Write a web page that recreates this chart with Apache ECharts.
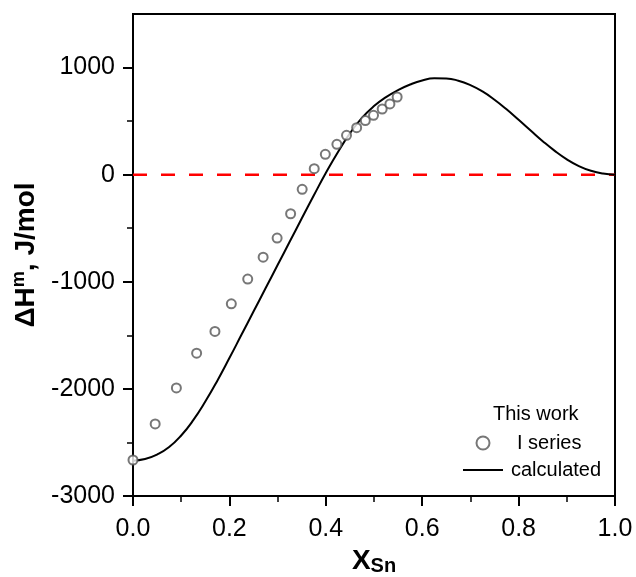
<!DOCTYPE html>
<html>
<head>
<meta charset="utf-8">
<script src="https://cdn.jsdelivr.net/npm/echarts@6/dist/echarts.min.js"></script>
<style>
  html, body { margin: 0; padding: 0; background: #fff; }
  #main { width: 636px; height: 577px; }
</style>
</head>
<body>
<div id="main"></div>
<script>
// measured points, I series
var xMeas = [0.0, 0.046, 0.090, 0.132, 0.170, 0.204, 0.238, 0.270, 0.299, 0.327, 0.351, 0.376,
             0.399, 0.423, 0.443, 0.464, 0.482, 0.499, 0.517, 0.533, 0.548];
var hMeas = [-2664, -2327, -1991, -1667, -1464, -1206, -975, -770, -592, -365, -137, 56,
             190, 283, 367, 439, 505, 554, 613, 660, 725];

// calculated curve
var xCalc = [0, 0.025, 0.05, 0.075, 0.1, 0.125, 0.15, 0.175, 0.2, 0.225, 0.25, 0.275, 0.3, 0.325,
             0.35, 0.375, 0.4, 0.425, 0.45, 0.475, 0.5, 0.525, 0.55, 0.575, 0.6, 0.625, 0.65,
             0.675, 0.7, 0.725, 0.75, 0.775, 0.8, 0.825, 0.85, 0.875, 0.9, 0.925, 0.95, 0.975, 1.0];
var hCalc = [-2670, -2655, -2613, -2543, -2435, -2292, -2118, -1923, -1712, -1495, -1278, -1061,
             -844, -627, -410, -195, 15, 210, 385, 530, 640, 724, 790, 842, 880, 900, 898,
             877, 836, 777, 700, 610, 512, 412, 313, 222, 143, 80, 36, 10, 0];

var xTicks = [0, 0.2, 0.4, 0.6, 0.8, 1.0];
var yMajor = [-3000, -2000, -1000, 0, 1000];
var yMinor = [-2500, -1500, -500, 500];

var font = 'Liberation Sans, Arial, sans-serif';

var myChart = echarts.init(document.getElementById('main'));

var option = {
  backgroundColor: '#fff',
  animation: false,
  grid: {
    left: 133, right: 21, top: 14, bottom: 81,
    outerBoundsMode: 'none',
    show: true, borderColor: '#000', borderWidth: 2, backgroundColor: 'transparent'
  },
  legend: {
    orient: 'vertical',
    left: 458, top: 428,
    itemWidth: 40, itemHeight: 13, itemGap: 7,
    textStyle: { fontFamily: font, fontSize: 20, color: '#000' },
    data: [
      { name: 'I series', icon: 'emptyCircle', textStyle: { padding: [0, 0, 0, 9] } },
      { name: 'calculated', icon: 'path://M0,0 L40,0 L40,2 L0,2 Z', textStyle: { padding: [0, 0, 0, 3] } }
    ]
  },
  graphic: [{
    type: 'text', left: 493, top: 404,
    style: { text: 'This work', font: '20px ' + font, fill: '#000' }
  }],
  xAxis: {
    type: 'value', min: 0, max: 1, interval: 0.2,
    name: '{x|X}{s|Sn}',
    nameLocation: 'middle', nameGap: 45,
    nameTextStyle: {
      rich: {
        x: { fontFamily: font, fontSize: 28, fontWeight: 'bold', color: '#000' },
        s: { fontFamily: font, fontSize: 20, fontWeight: 'bold', color: '#000', verticalAlign: 'bottom', padding: [12, 0, 0, 0] }
      }
    },
    axisLine: { onZero: false, lineStyle: { color: '#000', width: 2 } },
    axisTick: { length: 10, lineStyle: { color: '#000', width: 2 } },
    minorTick: { show: true, splitNumber: 2, length: 6, lineStyle: { color: '#000', width: 1.5 } },
    axisLabel: {
      margin: 21, fontFamily: font, fontSize: 25, color: '#000',
      customValues: xTicks,
      formatter: function (v) { return v.toFixed(1); }
    },
    splitLine: { show: false }
  },
  yAxis: [{
    type: 'value', min: -3000, max: 1500, interval: 1000,
    name: '{d|\u0394H}{m|m}{t|, J/mol}',
    nameLocation: 'middle', nameGap: 90, nameRotate: 90,
    nameTextStyle: {
      rich: {
        d: { fontFamily: font, fontSize: 28, fontWeight: 'bold', color: '#000' },
        m: { fontFamily: font, fontSize: 18, fontWeight: 'bold', color: '#000', verticalAlign: 'top', padding: [0, 0, 14, 0] },
        t: { fontFamily: font, fontSize: 28, fontWeight: 'bold', color: '#000' }
      }
    },
    axisLine: { onZero: false, lineStyle: { color: '#000', width: 2 } },
    axisTick: { customValues: yMajor, length: 10, lineStyle: { color: '#000', width: 2 } },
    axisLabel: {
      customValues: yMajor, margin: 18, fontFamily: font, fontSize: 25, color: '#000',
      formatter: function (v) { return String(v); }
    },
    splitLine: { show: false }
  }, {
    type: 'value', min: -3000, max: 1500, position: 'left',
    axisLine: { show: false },
    axisTick: { customValues: yMinor, length: 6, lineStyle: { color: '#000', width: 1.5 } },
    axisLabel: { show: false },
    splitLine: { show: false }
  }],
  series: [{
    name: 'zero',
    type: 'line',
    data: [[0, 0], [1, 0]],
    symbol: 'none',
    lineStyle: { color: '#ff0000', width: 2.5, type: [14, 14] },
    silent: true,
    z: 1
  }, {
    name: 'calculated',
    type: 'line',
    data: xCalc.map(function (x, i) { return [x, hCalc[i]]; }),
    smooth: true,
    symbol: 'none',
    itemStyle: { color: '#000' },
    lineStyle: { color: '#000', width: 2 },
    z: 2
  }, {
    name: 'I series',
    type: 'scatter',
    data: xMeas.map(function (x, i) { return [x, hMeas[i]]; }),
    symbol: 'emptyCircle',
    symbolSize: 9,
    itemStyle: { color: '#555', borderWidth: 1 },
    z: 3
  }]
};

myChart.setOption(option);
</script>
</body>
</html>
